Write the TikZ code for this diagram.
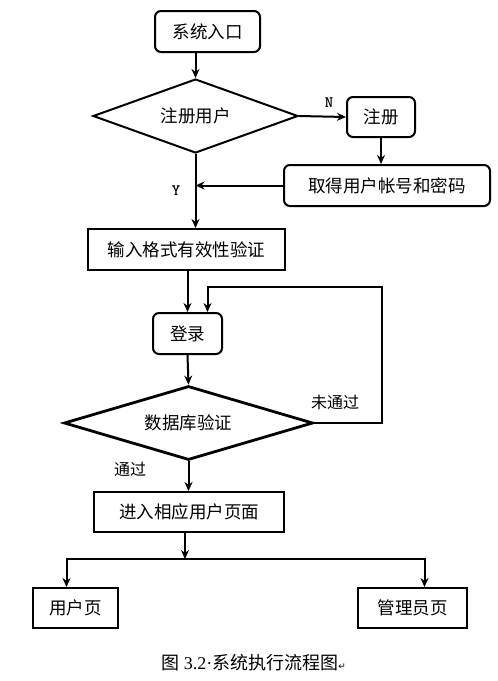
\documentclass[tikz,border=0pt]{standalone}
\usepackage{fontspec}
\setmainfont{Noto Sans CJK SC}
\newfontfamily\numfont{Liberation Serif}
\newfontfamily\symfont{DejaVu Sans}
\usetikzlibrary{shapes.geometric, arrows.meta}

\begin{document}
\begin{tikzpicture}[x=1pt, y=-1pt, >={Stealth[length=9pt, width=8pt]}, line width=2pt,
  every node/.style={font=\fontsize{17.5}{20}\selectfont},
  rbox/.style={draw, rectangle, rounded corners=6pt, inner sep=0pt},
  sbox/.style={draw, rectangle, inner sep=0pt},
  dbox/.style={draw, diamond, aspect=2.8, inner sep=0pt},
  yn/.style={font=\ttfamily\bfseries\fontsize{16}{18}\selectfont}]
\useasboundingbox (0,0) rectangle (498,681);
\node[rbox, minimum width=105pt, minimum height=41pt] (a) at (207.5,31.5) {系统入口};
\node[dbox, minimum width=205pt, minimum height=74pt] (b) at (195.5,116) {注册用户};
\node[rbox, minimum width=68pt, minimum height=40pt] (c) at (381,117) {注册};
\node[rbox, minimum width=206pt, minimum height=41pt] (d) at (387,185.5) {取得用户帐号和密码};
\node[sbox, minimum width=197pt, minimum height=41pt] (e) at (186.5,249.5) {输入格式有效性验证};
\node[rbox, minimum width=69pt, minimum height=41pt] (f) at (187.5,333.5) {登录};
\node[dbox, line width=2.8pt, minimum width=249pt, minimum height=74pt] (g) at (188.5,423) {数据库验证};
\node[sbox, minimum width=190pt, minimum height=40pt] (h) at (189,512) {进入相应用户页面};
\node[sbox, minimum width=85pt, minimum height=40pt] (i) at (75.5,608) {用户页};
\node[sbox, minimum width=109pt, minimum height=40pt] (j) at (412.5,608) {管理员页};
% labels
\node[yn] (nlab) at (329,103) {N};
\node[yn] (ylab) at (176,191) {Y};
\node[font=\fontsize{16}{19}\selectfont] (nopass) at (335,402) {未通过};
\node[font=\fontsize{16}{19}\selectfont] (pass) at (130,469) {通过};
\node[font=\fontsize{18}{21}\selectfont] (cap) at (254,663) {图 {\numfont 3.2\textperiodcentered}系统执行流程图{\symfont\fontsize{9}{12}\selectfont ↵}};
% arrows
\draw[->] (b.north |- a.south) -- (b.north);
\draw[->] (b.east) -- (c.west);
\draw[->] (c.south) -- (c.south |- d.north);
\draw[->] (d.west) -- (d.west -| b.south);
\draw[->] (b.south) -- (b.south |- e.north);
\draw[->] (e.south -| f.north) -- (f.north);
\draw[->] (f.south) -- (g.north);
\coordinate (back) at (382,287);
\draw[->] (g.east) -| (back) -| ([xshift=20pt]f.north);
\draw[->] (g.south) -- (g.south |- h.north);
\coordinate (split) at (185,559);
\draw[->] (split |- h.south) -- (split);
\draw[->] (split) -| ([xshift=-9pt]i.north);
\draw[->] (split) -| ([xshift=12pt]j.north);
\end{tikzpicture}
\end{document}
